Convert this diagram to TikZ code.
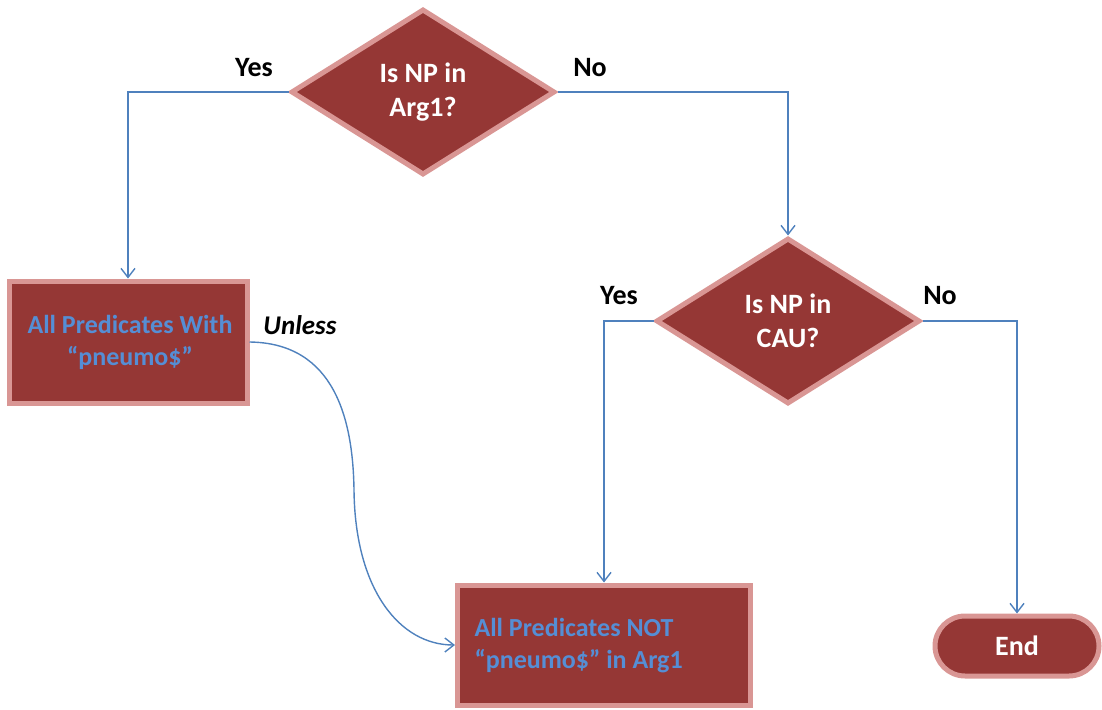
\documentclass[tikz,border=0pt]{standalone}
\usepackage{fontspec}
\setmainfont{Carlito}
\usetikzlibrary{shapes.geometric,shapes.misc,arrows.meta}
\definecolor{boxfill}{HTML}{953735}
\definecolor{boxedge}{HTML}{D99694}
\definecolor{flow}{HTML}{4F81BD}
\definecolor{boxtext}{HTML}{558ED5}
\begin{document}
\begin{tikzpicture}[x=1pt,y=-1pt,
  every node/.style={font=\fontsize{28}{34}\selectfont\bfseries},
  boxfont/.style={font=\fontsize{26}{32}\selectfont\bfseries},
  decision/.style={diamond, draw=boxedge, fill=boxfill, line width=5pt,
    minimum width=264pt, minimum height=166pt, inner sep=0pt, text=white, align=center},
  action/.style={rectangle, draw=boxedge, fill=boxfill, line width=5pt, inner sep=0pt},
  terminal/.style={rounded rectangle, draw=boxedge, fill=boxfill, line width=5pt,
    minimum width=164pt, minimum height=60pt, inner sep=0pt, text=white},
  flowline/.style={draw=flow, line width=1.4pt, -{Straight Barb[length=9pt,width=14pt]}},
  lbl/.style={text=black}]
\useasboundingbox (0,0) rectangle (1102,709);

% decisions
\node[decision] (q1) at (423,92) {Is NP in\\Arg1?};
\node[decision] (q2) at (788,321) {Is NP in\\CAU?};

% actions
\node[action, minimum width=238pt, minimum height=122pt] (b1) at (128,342) {};
\node[boxfont, text=boxtext, align=center] (t1) at (130,342) {All Predicates With\\“pneumo\$”};
\node[action, minimum width=293pt, minimum height=120pt] (b2) at (604,645) {};
\node[boxfont, text=boxtext, align=left, anchor=west] (t2) at (471,646) {All Predicates NOT\\“pneumo\$” in Arg1};

% end
\node[terminal] (fin) at (1017,646) {End};

% connectors
\draw[flowline] (q1.west) -| (b1.north);
\draw[flowline] (q1.east) -| (q2.north);
\draw[flowline] (q2.west) -| (b2.north);
\draw[flowline] (q2.east) -| (fin.north);
\draw[flowline] (b1.east) .. controls (335,343) and (353,420) .. (354,490)
  .. controls (355,590) and (400,645) .. (b2.west);

% branch labels
\node[lbl] (y1) at (254,68) {Yes};
\node[lbl] (n1) at (590,68) {No};
\node[lbl] (y2) at (619,296) {Yes};
\node[lbl] (n2) at (940,296) {No};
\node[lbl, font=\fontsize{27}{32}\selectfont\bfseries\itshape] (un) at (300,325) {Unless};
\end{tikzpicture}
\end{document}
